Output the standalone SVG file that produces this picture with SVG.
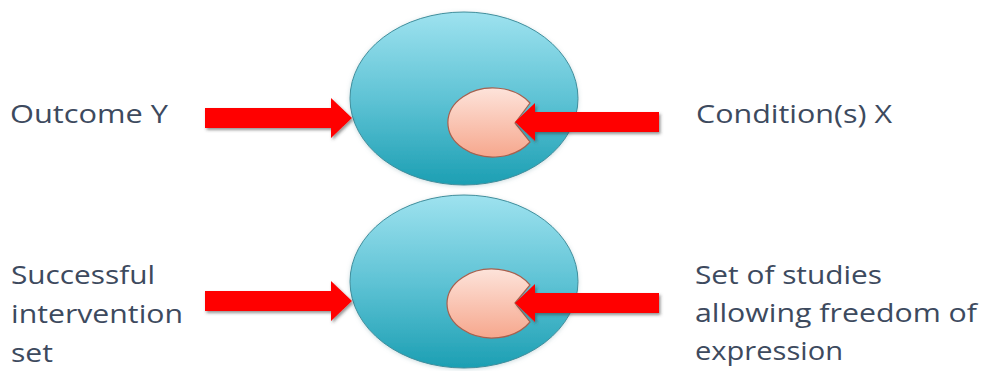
<svg xmlns="http://www.w3.org/2000/svg" width="981" height="371" viewBox="0 0 981 371">
  <defs>
    <linearGradient id="setFill" x1="0" y1="0" x2="0" y2="1">
      <stop offset="0" stop-color="#9ee2ef"/>
      <stop offset="0.5" stop-color="#5fc3d5"/>
      <stop offset="1" stop-color="#1c9fb3"/>
    </linearGradient>
    <linearGradient id="subFill" x1="0" y1="0" x2="0" y2="1">
      <stop offset="0" stop-color="#fde3da"/>
      <stop offset="1" stop-color="#f6a78d"/>
    </linearGradient>
    <filter id="arrowShadow" x="-10%" y="-30%" width="125%" height="170%">
      <feDropShadow dx="1.5" dy="2" stdDeviation="1.5" flood-color="#3a3a3a" flood-opacity="0.55"/>
    </filter>
    <filter id="setGlow" x="-10%" y="-10%" width="120%" height="120%">
      <feDropShadow dx="0" dy="1" stdDeviation="2" flood-color="#7fa8b0" flood-opacity="0.4"/>
    </filter>
  </defs>
  <style>
    .label { font-family: "Open Sans", "Liberation Sans", sans-serif; font-size: 26px; fill: #3d4a5e; }
    .outer { fill: url(#setFill); stroke: #3f8e9c; stroke-width: 1; filter: url(#setGlow); }
    .inner { fill: url(#subFill); stroke: #a8604e; stroke-width: 1.2; }
    .arrow { fill: #ff0000; filter: url(#arrowShadow); }
  </style>

  <!-- upper pair: outcome set containing the condition set -->
  <g id="outcome-set">
    <ellipse class="outer" cx="464" cy="98.5" rx="114" ry="86.5"/>
  </g>
  <g id="condition-set">
    <path class="inner" d="M515,123 L530,103 A45,34.5 0 1 0 530,142 Z"/>
  </g>

  <!-- lower pair: successful intervention set containing the study set -->
  <g id="intervention-set">
    <ellipse class="outer" cx="464" cy="281.5" rx="114" ry="86.5"/>
  </g>
  <g id="study-set">
    <path class="inner" d="M515,303 L530,285 A45,34.5 0 1 0 530,322 Z"/>
  </g>

  <g id="connectors">
    <path class="arrow" d="M205,108 H331 V98 L352,118 L331,138 V128 H205 Z"/>
    <path class="arrow" d="M659,112 H535 V103 L515,122 L535,141 V132 H659 Z"/>
    <path class="arrow" d="M205,291 H331 V281 L352,301 L331,321 V311 H205 Z"/>
    <path class="arrow" d="M659,293 H535 V284 L515,303 L535,322 V313 H659 Z"/>
  </g>

  <g id="label-outcome">
    <text class="label" x="10" y="123" textLength="158" lengthAdjust="spacingAndGlyphs">Outcome Y</text>
  </g>
  <g id="label-condition">
    <text class="label" x="696" y="123" textLength="196" lengthAdjust="spacingAndGlyphs">Condition(s) X</text>
  </g>
  <g id="label-intervention">
    <text class="label" x="11" y="284" textLength="144" lengthAdjust="spacingAndGlyphs">Successful</text>
    <text class="label" x="11" y="323" textLength="172" lengthAdjust="spacingAndGlyphs">intervention</text>
    <text class="label" x="11" y="362" textLength="42" lengthAdjust="spacingAndGlyphs">set</text>
  </g>
  <g id="label-studies">
    <text class="label" x="695" y="284" textLength="187" lengthAdjust="spacingAndGlyphs">Set of studies</text>
    <text class="label" x="695" y="322" textLength="282" lengthAdjust="spacingAndGlyphs">allowing freedom of</text>
    <text class="label" x="695" y="360" textLength="148" lengthAdjust="spacingAndGlyphs">expression</text>
  </g>
</svg>
